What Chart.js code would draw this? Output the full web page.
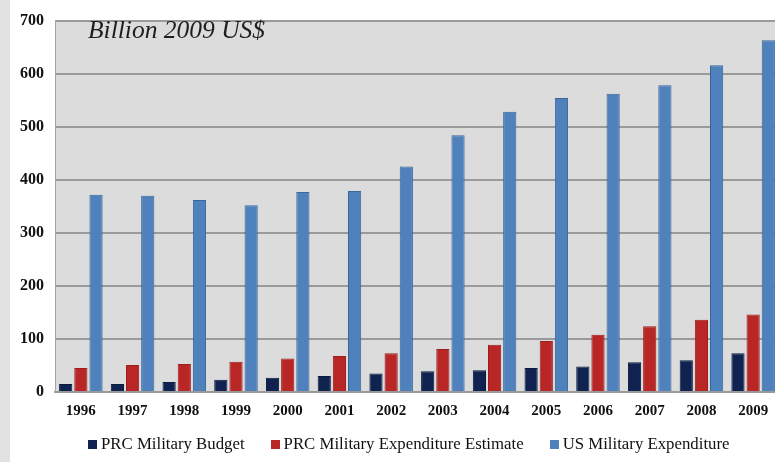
<!DOCTYPE html>
<html lang="en">
<head>
    <meta charset="UTF-8">
    <title>PRC vs US Military Spending</title>
    <script src="https://cdn.jsdelivr.net/npm/chart.js"></script>
    <style>
        html, body {
            margin: 0;
            padding: 0;
            overflow: hidden;
            background: linear-gradient(to right, #e2e2e2 0px, #e2e2e2 10px, #ffffff 10px);
        }
        .chart-box {
            position: relative;
            width: 779px;
            height: 462px;
        }
        .unit-title {
            position: absolute;
            left: 88px;
            top: 15px;
            font-family: "Liberation Serif", serif;
            font-style: italic;
            font-size: 25.5px;
            color: #1e1e1e;
        }
        .legend {
            position: absolute;
            left: 88px;
            top: 434px;
            display: flex;
            font-family: "Liberation Serif", serif;
            font-size: 16.8px;
            color: #111;
            white-space: nowrap;
        }
        .legend span {
            display: flex;
            align-items: center;
            margin-right: 26px;
        }
        .legend i {
            display: inline-block;
            width: 9px;
            height: 9px;
            margin-right: 4px;
        }
    </style>
</head>
<body>

    <div class="chart-box">
        <canvas id="barChart"></canvas>
        <div class="unit-title">Billion 2009 US$</div>
        <div class="legend" id="legend"></div>
    </div>

    <script>
        const years = ['1996', '1997', '1998', '1999', '2000', '2001', '2002', '2003', '2004', '2005', '2006', '2007', '2008', '2009'];
        const prcBudget = [15, 15, 19, 23, 27, 30, 35, 39, 41, 45, 48, 56, 60, 73];
        const prcEstimate = [45, 51, 53, 57, 63, 68, 73, 81, 89, 96, 108, 124, 136, 146];
        const usExpenditure = [372, 370, 362, 352, 377, 379, 425, 484, 528, 554, 562, 578, 616, 663];

        // grey plot area behind the bars
        const plotBackground = {
            id: 'plotBackground',
            beforeDraw(chart) {
                const a = chart.chartArea;
                const ctx = chart.ctx;
                ctx.save();
                ctx.fillStyle = '#dcdcdc';
                ctx.fillRect(a.left, a.top, a.right - a.left, a.bottom - a.top);
                ctx.restore();
            }
        };

        const serif = '"Liberation Serif", "Times New Roman", serif';

        const chart = new Chart(document.getElementById('barChart').getContext('2d'), {
            type: 'bar',
            data: {
                labels: years,
                datasets: [{
                    label: 'PRC Military Budget',
                    data: prcBudget,
                    backgroundColor: '#0f2250',
                    borderColor: '#0a1a3e',
                    borderWidth: 1
                }, {
                    label: 'PRC Military Expenditure Estimate',
                    data: prcEstimate,
                    backgroundColor: '#b82626',
                    borderColor: '#9c1f1f',
                    borderWidth: 1
                }, {
                    label: 'US Military Expenditure',
                    data: usExpenditure,
                    backgroundColor: '#4f81bd',
                    borderColor: '#3a6698',
                    borderWidth: 1
                }]
            },
            options: {
                responsive: true,
                maintainAspectRatio: false,
                animation: false,
                layout: {
                    padding: { top: 17, left: 0, right: 0, bottom: 34 }
                },
                datasets: {
                    bar: {
                        categoryPercentage: 0.88,
                        barPercentage: 0.87
                    }
                },
                plugins: {
                    tooltip: { enabled: false },
                    legend: { display: false }
                },
                scales: {
                    x: {
                        grid: { display: false, drawTicks: false },
                        border: { display: true, color: '#9a9a9a', width: 2 },
                        ticks: {
                            color: '#111',
                            font: { family: serif, size: 15, weight: 'bold' },
                            padding: 10,
                            maxRotation: 0
                        },
                        afterFit(scale) {
                            scale.height = 36;
                        }
                    },
                    y: {
                        min: 0,
                        max: 700,
                        grid: { color: '#9a9a9a', lineWidth: 2, drawTicks: false },
                        border: { display: true, color: '#a5a5a5', width: 1 },
                        ticks: {
                            stepSize: 100,
                            color: '#111',
                            font: { family: serif, size: 16, weight: 'bold' },
                            padding: 11
                        },
                        afterFit(scale) {
                            scale.width = 55;
                        }
                    }
                }
            },
            plugins: [plotBackground]
        });

        // legend as html, built from the chart's datasets
        const legend = document.getElementById('legend');
        chart.data.datasets.forEach(ds => {
            const item = document.createElement('span');
            const box = document.createElement('i');
            box.style.background = ds.backgroundColor;
            item.appendChild(box);
            item.appendChild(document.createTextNode(ds.label));
            legend.appendChild(item);
        });
    </script>
</body>
</html>
